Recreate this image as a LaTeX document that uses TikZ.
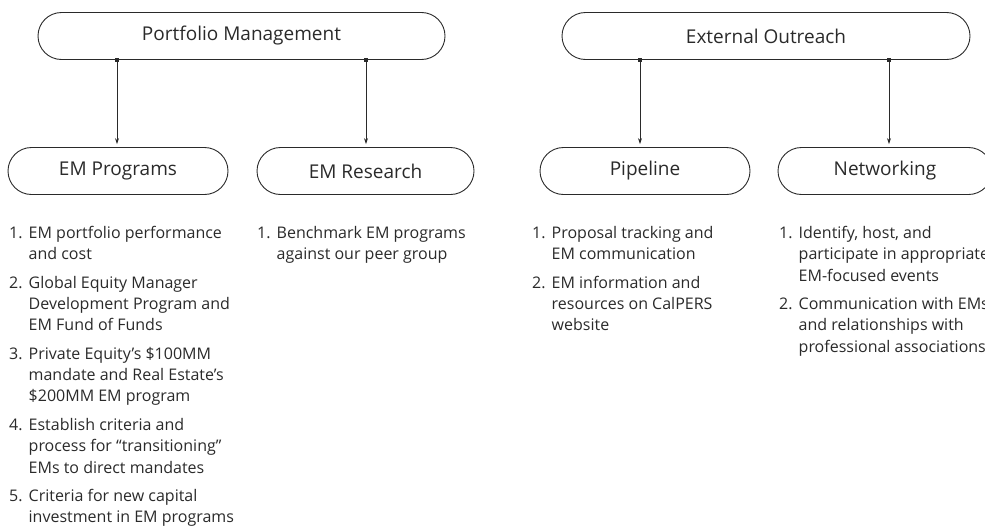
\documentclass[tikz,border=0pt]{standalone}
\usepackage{fontspec}
\setmainfont{Open Sans}
\usetikzlibrary{shapes.misc,arrows.meta}
\definecolor{ink}{HTML}{2A2A2A}
\newcommand{\itm}[1]{\makebox[19.5pt][l]{#1}}
\tikzset{
  pill/.style={rounded rectangle, draw=ink, line width=0.9pt, minimum height=47pt, inner sep=0pt, text=ink},
  toplabel/.style={font=\fontsize{19}{22}\selectfont},
  sublabel/.style={font=\fontsize{19}{22}\selectfont},
  listtext/.style={align=left, anchor=north west, inner sep=0pt, text=ink, font=\fontsize{16}{21.3}\selectfont},
  conn/.style={draw=ink, line width=0.8pt, -{Stealth[length=6pt,width=4pt]}},
  jdot/.style={fill=ink, minimum size=3.5pt, inner sep=0pt, rectangle}
}
\begin{document}
\begin{tikzpicture}[x=1pt,y=-1pt]
\useasboundingbox (0,0) rectangle (985,525);
% top boxes
\node[pill, toplabel, minimum width=407pt] (pm) at (241.5,36) {Portfolio Management};
\node[pill, toplabel, minimum width=408pt] (eo) at (766,36) {External Outreach};
% child boxes
\node[pill, sublabel, minimum width=220pt] (prog) at (118,171) {EM Programs};
\node[pill, sublabel, minimum width=217pt] (res) at (365.5,171) {EM Research};
\node[pill, sublabel, minimum width=210pt] (pipe) at (645,171) {Pipeline};
\node[pill, sublabel, minimum width=214pt] (net) at (885,171) {Networking};
% junction points
\coordinate (j1) at (117,60);
\coordinate (j2) at (366,60);
\coordinate (j3) at (640,60);
\coordinate (j4) at (889,60);
\node[jdot] (d1) at (j1) {};
\node[jdot] (d2) at (j2) {};
\node[jdot] (d3) at (j3) {};
\node[jdot] (d4) at (j4) {};
\draw[conn, shorten >=3pt] (j1) -- (j1 |- prog.north);
\draw[conn, shorten >=3pt] (j2) -- (j2 |- res.north);
\draw[conn, shorten >=3pt] (j3) -- (j3 |- pipe.north);
\draw[conn, shorten >=3pt] (j4) -- (j4 |- net.north);
% lists
\node[listtext] (l1) at (9,226) {%
\itm{1.}EM portfolio performance\\
\itm{}and cost\\[7.2pt]
\itm{2.}Global Equity Manager\\
\itm{}Development Program and\\
\itm{}EM Fund of Funds\\[7.2pt]
\itm{3.}Private Equity's \$100MM\\
\itm{}mandate and Real Estate's\\
\itm{}\$200MM EM program\\[7.2pt]
\itm{4.}Establish criteria and\\
\itm{}process for ``transitioning''\\
\itm{}EMs to direct mandates\\[7.2pt]
\itm{5.}Criteria for new capital\\
\itm{}investment in EM programs};
\node[listtext] (l2) at (257,226) {%
\itm{1.}Benchmark EM programs\\
\itm{}against our peer group};
\node[listtext] (l3) at (532,226) {%
\itm{1.}Proposal tracking and\\
\itm{}EM communication\\[7.2pt]
\itm{2.}EM information and\\
\itm{}resources on CalPERS\\
\itm{}website};
\node[listtext] (l4) at (779,226) {%
\itm{1.}Identify, host, and\\
\itm{}participate in appropriate\\
\itm{}EM-focused events\\[7.2pt]
\itm{2.}Communication with EMs\\
\itm{}and relationships with\\
\itm{}professional associations};
\end{tikzpicture}
\end{document}
